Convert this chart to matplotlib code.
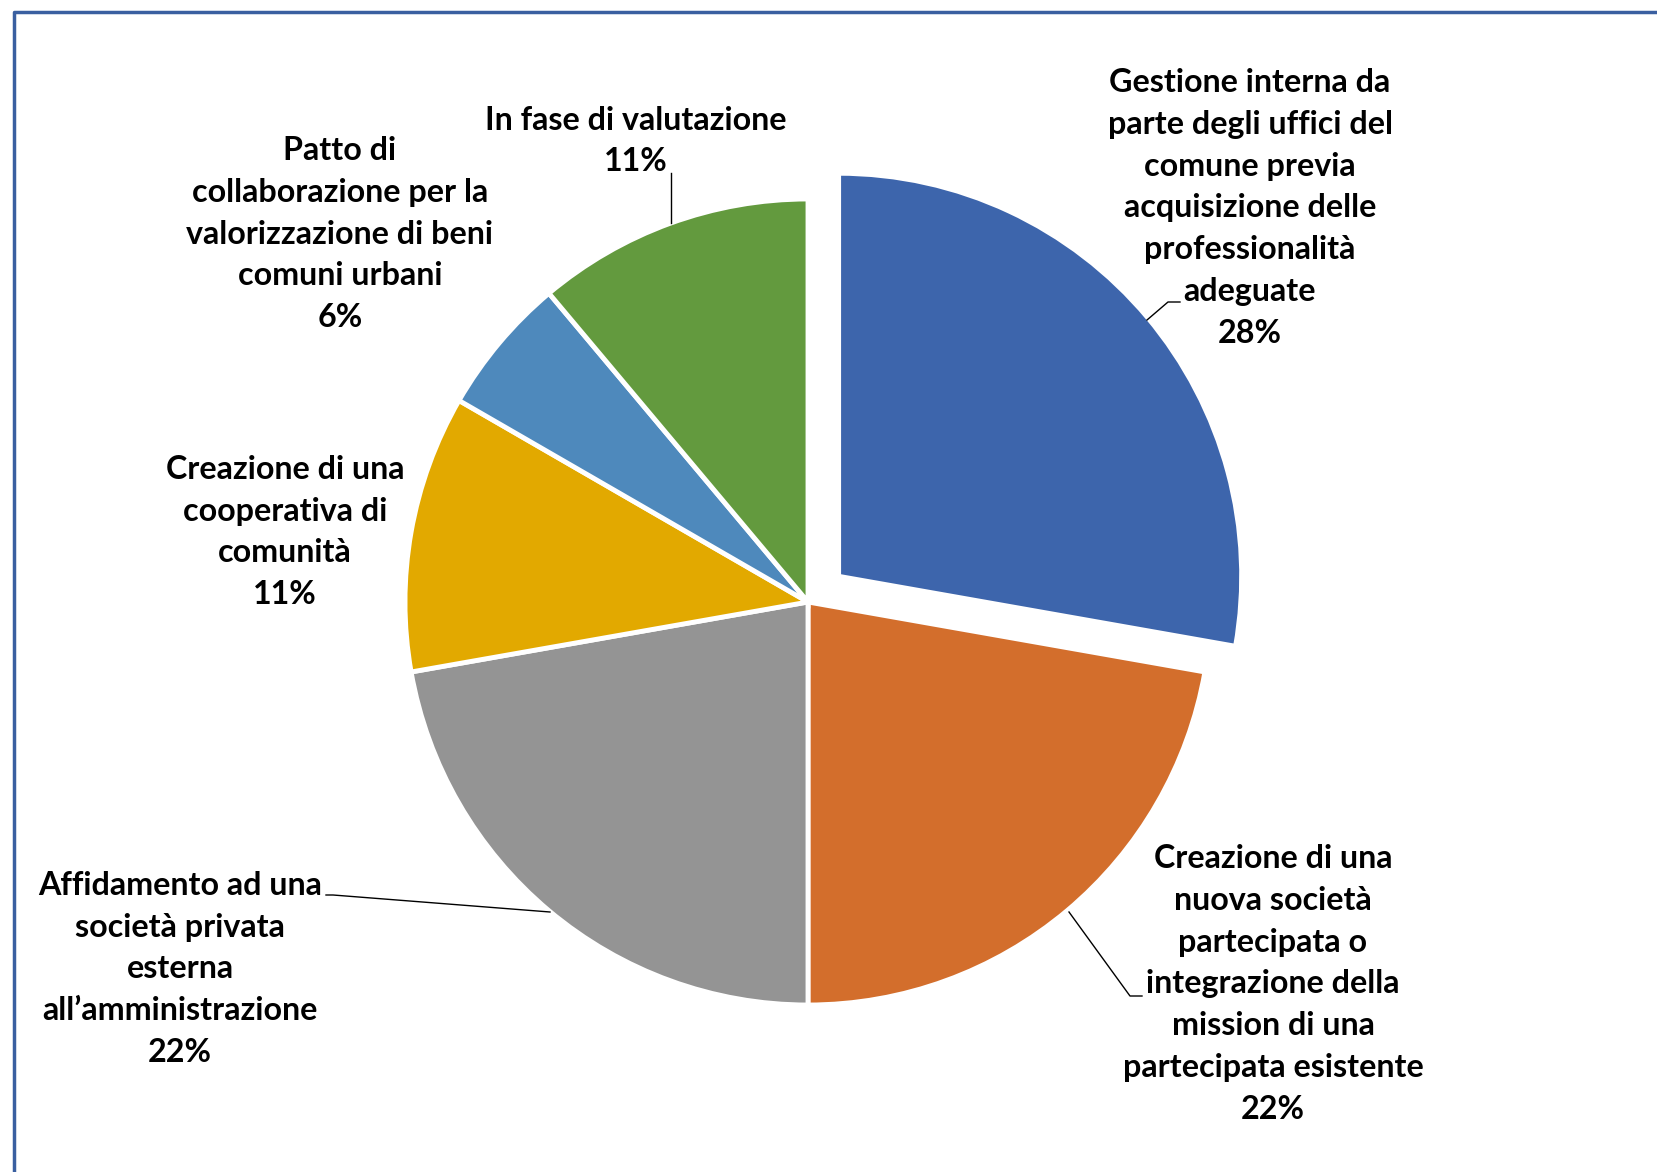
import matplotlib.pyplot as plt

# dati (frazioni su 18 risposte)
labels = [
    'Gestione interna da\nparte degli uffici del\ncomune previa\nacquisizione delle\nprofessionalità\nadeguate\n28%',
    'Creazione di una\nnuova società\npartecipata o\nintegrazione della\nmission di una\npartecipata esistente\n22%',
    'Affidamento ad una\nsocietà privata\nesterna\nall\u2019amministrazione\n22%',
    'Creazione di una\ncooperativa di\ncomunità\n11%',
    'Patto di\ncollaborazione per la\nvalorizzazione di beni\ncomuni urbani\n6%',
    'In fase di valutazione\n11%',
]
values = [5, 4, 4, 2, 1, 2]
colors = ['#3D65AC', '#D36E2C', '#949494', '#E2A900', '#4E89BC', '#639A3E']

W, H = 1657, 1172
plt.rcParams['font.family'] = ['Lato', 'DejaVu Sans']

fig = plt.figure(figsize=(W / 100, H / 100), dpi=100)
ax = fig.add_axes([0, 0, 1, 1])

cx, cy, r = 808, H - 602, 403
# explode in unità dati (pixel)
explode = [40, 0, 0, 0, 0, 0]
ax.pie(values, colors=colors, explode=explode, startangle=90, counterclock=False,
       center=(cx, cy), radius=r, frame=True,
       wedgeprops=dict(edgecolor='white', linewidth=3.5))
ax.set_xlim(0, W)
ax.set_ylim(0, H)
ax.axis('off')

# posizioni etichette (pixel immagine)
pos = [(1250, 208), (1273, 984), (180, 969), (285, 532), (340, 234), (636, 141)]
for lab, (x, y) in zip(labels, pos):
    ax.text(x, H - y, lab, ha='center', va='center', fontsize=23.2,
            fontweight='bold', linespacing=1.53, color='black')

# linee guida
leaders = [
    [(1147, 320), (1168, 302), (1180, 302)],
    [(1069, 912), (1130, 996), (1142, 996)],
    [(550, 912), (333, 895), (326, 895)],
    [(671, 223), (671, 173)],
]
for pts in leaders:
    ax.plot([p[0] for p in pts], [H - p[1] for p in pts], color='black', linewidth=1)

# cornice
ax.plot([14, 14, W + 10], [-10, H - 12, H - 12], color='#3A5FA0', linewidth=2.5)

fig.savefig('out.png', dpi=100)
